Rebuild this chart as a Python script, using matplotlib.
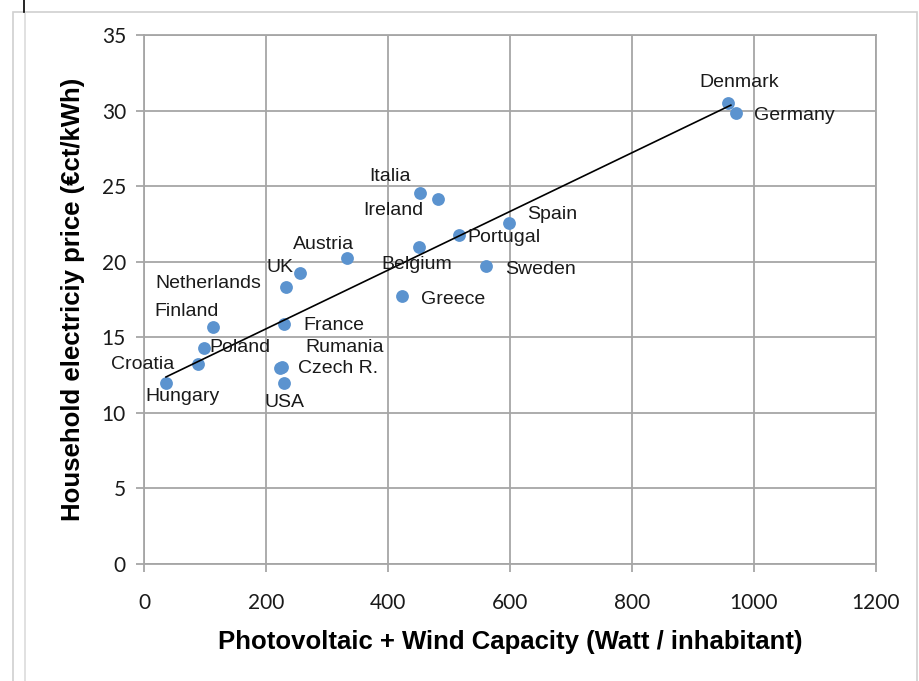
"""
Household electricity price vs. PV + wind capacity per inhabitant
"""
import matplotlib
matplotlib.use("Agg")
import matplotlib.pyplot as plt
import matplotlib.lines as mlines
import matplotlib.patches as mpatches
import numpy as np

# data
countries = ["Hungary", "Croatia", "Poland", "Finland", "Netherlands", "UK",
             "Austria", "France", "Rumania", "Czech R.", "USA", "Greece",
             "Belgium", "Italia", "Ireland", "Portugal", "Spain", "Sweden",
             "Denmark", "Germany"]
capacity = [36, 88, 98, 113, 233, 256, 333, 230, 223, 227, 230, 423,
            451, 452, 482, 516, 598, 561, 957, 970]
price = [12.0, 13.2, 14.3, 15.7, 18.3, 19.25, 20.25, 15.9, 12.95, 13.05, 12.0, 17.7,
         21.0, 24.55, 24.15, 21.8, 22.55, 19.7, 30.5, 29.85]

x_ticks = [0, 200, 400, 600, 800, 1000, 1200]
y_ticks = [0, 5, 10, 15, 20, 25, 30, 35]

# label placement: (dx, dy) in points, horizontal alignment
label_pos = {
    "Hungary": (12, -10, "center"), "Croatia": (-17, 0, "right"),
    "Poland": (4, 0, "left"), "Finland": (-19, 11, "center"),
    "Netherlands": (-18, 3, "right"), "UK": (-5, 4, "right"),
    "Austria": (-17, 10, "center"), "France": (13.5, -1.5, "left"),
    "Rumania": (18, 15, "left"), "Czech R.": (11, -1, "left"),
    "USA": (0, -14, "center"), "Greece": (13.5, -2, "left"),
    "Belgium": (-1.5, -13, "center"), "Italia": (-21.5, 12, "center"),
    "Ireland": (-32, -8, "center"), "Portugal": (6.5, -2, "left"),
    "Spain": (13, 6, "left"), "Sweden": (13.5, -2, "left"),
    "Denmark": (8, 14.5, "center"), "Germany": (13, -2, "left"),
}

grid_col = "#a6a6a6"
dot_col = "#5b93cf"

fig = plt.figure(figsize=(9.19, 6.81), dpi=100)

# outer frame like the spreadsheet chart box
fig.add_artist(mpatches.Rectangle((13 / 919, -0.1), (917 - 13) / 919, 1.1 - 12 / 681,
                                  transform=fig.transFigure, fill=False,
                                  edgecolor="#d0d0d0", lw=1.2))
fig.add_artist(mlines.Line2D([25 / 919, 25 / 919], [0, 1 - 12 / 681],
                             transform=fig.transFigure, color="#dcdcdc", lw=1.2))
fig.add_artist(mlines.Line2D([24 / 919, 24 / 919], [1 - 12 / 681, 1],
                             transform=fig.transFigure, color="black", lw=1.2))

ax = fig.add_axes([144 / 919, 1 - 564 / 681, (876 - 144) / 919, (564 - 35) / 681])

ax.set_xlim(0, 1200)
ax.set_ylim(0, 35)
ax.set_xticks(x_ticks)
ax.set_yticks(y_ticks)
ax.grid(True, color=grid_col, lw=1.3)
ax.set_axisbelow(True)
for s in ax.spines.values():
    s.set_color(grid_col)
    s.set_linewidth(1.3)
ax.tick_params(colors=grid_col, length=6, width=1.3, labelcolor="#1a1a1a",
               labelsize=15, pad=7)
for lab in ax.get_xticklabels() + ax.get_yticklabels():
    lab.set_fontfamily("Lato")
ax.tick_params(axis="x", pad=15)

# trend line (least squares)
k, b = np.polyfit(capacity, price, 1)
xs = np.array([min(capacity), max(capacity) - 8])
ax.plot(xs, k * xs + b, color="black", lw=1.2, zorder=3)

ax.scatter(capacity, price, s=85, color=dot_col, zorder=2, linewidths=0)

for name, cx, cy in zip(countries, capacity, price):
    dx, dy, ha = label_pos[name]
    ax.annotate(name, xy=(cx, cy), xytext=(dx, dy), textcoords="offset points",
                ha=ha, va="center", fontsize=14, family="Liberation Sans",
                color="#1a1a1a", zorder=4)

ax.set_xlabel("Photovoltaic + Wind Capacity (Watt / inhabitant)",
              fontsize=18.5, fontweight="bold", family="Liberation Sans", labelpad=12)
ax.set_ylabel("Household electriciy price (€ct/kWh)",
              fontsize=18.5, fontweight="bold", family="Liberation Sans", labelpad=12)

fig.savefig("out.png", dpi=100, facecolor="white")
